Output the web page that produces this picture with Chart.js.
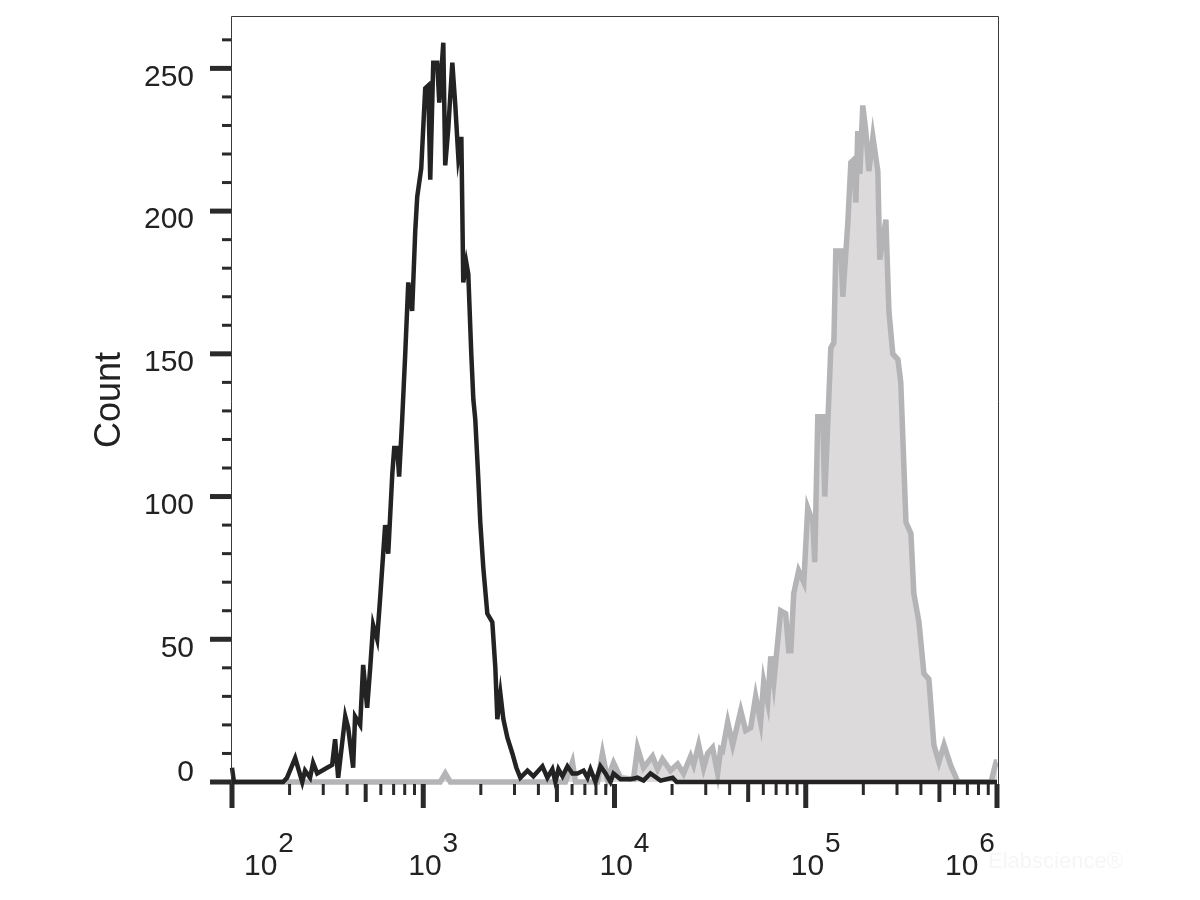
<!DOCTYPE html>
<html>
<head>
<meta charset="utf-8">
<script src="https://cdn.jsdelivr.net/npm/chart.js@4.4.0/dist/chart.umd.min.js"></script>
<style>
    html, body { margin: 0; padding: 0; background: #fff; }
</style>
</head>
<body>
<canvas id="histo" width="1200" height="900"></canvas>

<script>
    // control (black line) - fluorescence intensity vs count
    var ctrlX = [100, 102.4, 185, 194, 214, 233, 241, 256, 265.5, 279, 314, 334, 346, 359, 391, 405, 430, 440, 468, 485,
        509, 528, 547, 574, 596, 632, 656, 689, 705, 731, 748, 776, 805, 835, 875, 908, 930, 976, 1024, 1062,
        1088, 1128, 1183, 1213, 1273, 1303, 1352, 1419, 1471, 1525, 1582, 1619, 1679, 1720, 1783, 1828, 1871, 1941, 1987, 2061,
        2163, 2297, 2382, 2440, 2531, 2624, 2754, 2924, 3069, 3219, 3508, 3767, 4198, 4458, 4732, 4909, 5093, 5346, 5675, 6026,
        6398, 6886, 7225, 7487, 7953, 8446, 8974, 9527, 9883, 10750, 12130, 13190, 14190, 15420, 17420, 20130, 21130, 1000000];
    var ctrlY = [5, 0, 0, 1.5, 8.4, 0, 4, 1.5, 6.7, 3, 5, 6, 15, 1.5, 23, 19, 5, 23, 20, 41,
        26, 40, 55, 50, 65, 90, 80, 108, 117, 117, 107, 127, 150, 175, 165, 193, 205, 215, 243, 244,
        211, 252, 252, 238, 259, 216, 229, 252, 237, 219, 226, 175, 182, 178, 150, 134, 127, 106, 91, 75,
        59, 56, 40, 22, 31, 22, 15.5, 10, 5, 1.5, 4, 2, 5.5, 1.5, 4.5, 0, 4.5, 2, 5.5, 3,
        3, 4, 1.5, 4.5, 0, 5.5, 3, 0, 3, 1, 1, 1.5, 0.5, 3, 0.5, 1.5, 0, 0];

    // stained sample (grey filled)
    var stainX = [100, 1227, 1303, 1385, 5540, 6026, 6252, 8147, 8650, 9183, 9883, 10750, 12570, 13190, 14190, 15810, 16790, 17820, 19630, 21380,
        22970, 25000, 25940, 27540, 29240, 30690, 32580, 34600, 35890, 36730, 39080, 41500, 45710, 48530, 51520, 54700, 58070, 60260, 63240, 65610,
        68080, 73960, 78520, 81470, 83560, 86500, 91830, 97720, 102400, 108900, 111400, 115600, 122700, 125700, 130300, 135200, 140300, 143600, 152500, 156300,
        166000, 172200, 178300, 182800, 187100, 191900, 198700, 206100, 213800, 224400, 238200, 243800, 262400, 272200, 285100, 303400, 314000, 334200, 354800, 367400,
        390800, 414900, 440500, 467700, 496700, 528400, 574200, 625200, 931000, 988600, 1000000];
    var stainY = [0, 0, 3, 0, 0, 7, 0, 0, 10, 1, 6.7, 1.5, 1, 12, 5, 9, 4.5, 8, 4, 6.3,
        3, 9, 6, 13, 5, 10, 12, 3, 11.5, 11, 21, 13, 25, 18, 19, 30, 21, 35, 28, 44,
        35, 60, 59, 46, 46, 66, 74, 70, 96, 91, 77, 128, 128, 100, 125, 152, 154, 186, 186, 170,
        196, 217, 218, 203, 228, 213, 237, 228, 214, 226, 214, 183, 197, 165, 150, 148, 140, 91, 87, 66,
        56, 38, 36, 13, 7, 13, 5.6, 0, 0, 7, 7];

    var yMajor = [0, 50, 100, 150, 200, 250];
    var yMinorStep = 10;
    var yMinorTop = 260;
    var decades = [2, 3, 4, 5, 6];

    var FONT = '"Liberation Sans", Arial, sans-serif';

    function toPoints(xs, ys) {
        var pts = [];
        for (var i = 0; i < xs.length; i++) pts.push({ x: xs[i], y: ys[i] });
        return pts;
    }

    // axes, ticks and labels drawn by hand so they look like the flow software output
    var axesPlugin = {
        id: 'flowAxes',
        afterDraw: function (chart) {
            var ctx = chart.ctx;
            var xs = chart.scales.x, ys = chart.scales.y;
            var a = chart.chartArea;
            ctx.save();

            // frame
            ctx.strokeStyle = '#3a3a3a';
            ctx.lineWidth = 1;
            ctx.beginPath();
            ctx.moveTo(231.5, 786);
            ctx.lineTo(231.5, a.top - 0.5);
            ctx.lineTo(a.right + 1.5, a.top - 0.5);
            ctx.lineTo(a.right + 1.5, 786);
            ctx.stroke();

            // y ticks
            ctx.fillStyle = '#2a2a2a';
            for (var v = 0; v <= yMinorTop; v += yMinorStep) {
                var py = ys.getPixelForValue(v);
                if (v % 50 == 0) ctx.fillRect(210, py - 2.5, 21, 5);
                else ctx.fillRect(222, py - 1.5, 9, 3);
            }

            // x ticks (log)
            for (var p = 2; p <= 6; p++) {
                for (var m = 1; m <= 9; m++) {
                    if (p == 6 && m > 1) break;
                    var val = m * Math.pow(10, p);
                    var px = xs.getPixelForValue(val);
                    if (m == 1) ctx.fillRect(px - 2.5, 784, 5, 24);
                    else if (m == 5) ctx.fillRect(px - 2, 784, 4, 18);
                    else ctx.fillRect(px - 1.5, 784, 3, 11);
                }
            }

            // y labels
            ctx.fillStyle = '#222';
            ctx.font = '30px ' + FONT;
            ctx.textAlign = 'right';
            ctx.textBaseline = 'middle';
            yMajor.forEach(function (v) {
                var py = ys.getPixelForValue(v);
                ctx.fillText(String(v), 194, v == 0 ? py - 9 : py + 9);
            });

            // x labels 10^n
            ctx.textAlign = 'left';
            ctx.textBaseline = 'alphabetic';
            decades.forEach(function (p, i) {
                var px = xs.getPixelForValue(Math.pow(10, p));
                var tx = px - 15;
                if (i == 0) tx = px + 12;
                if (i == decades.length - 1) tx = px - 52;
                ctx.font = '30px ' + FONT;
                ctx.fillText('10', tx, 875);
                var w = ctx.measureText('10').width;
                ctx.font = '28px ' + FONT;
                ctx.fillText(String(p), tx + w + 1, 852);
            });

            // axis title
            ctx.save();
            ctx.translate(110, 400);
            ctx.rotate(-Math.PI / 2);
            ctx.textAlign = 'center';
            ctx.textBaseline = 'middle';
            ctx.font = '36px ' + FONT;
            ctx.fillText('Count', 0, 0);
            ctx.restore();

            // faint watermark
            ctx.fillStyle = '#f6f6f6';
            ctx.font = '22px ' + FONT;
            ctx.fillText('Elabscience\u00AE', 988, 868);

            ctx.restore();
        }
    };

    var chart = new Chart(document.getElementById('histo').getContext('2d'), {
        type: 'line',
        data: {
            datasets: [{
                label: 'control',
                data: toPoints(ctrlX, ctrlY),
                borderColor: '#232323',
                borderWidth: 4.5,
                borderJoinStyle: 'miter',
                pointRadius: 0,
                tension: 0,
                fill: false,
                clip: false
            }, {
                label: 'sample',
                data: toPoints(stainX, stainY),
                borderColor: '#b4b3b6',
                backgroundColor: '#dcdadb',
                borderWidth: 5.5,
                borderJoinStyle: 'miter',
                pointRadius: 0,
                tension: 0,
                fill: 'origin',
                clip: false
            }]
        },
        options: {
            responsive: false,
            animation: false,
            layout: { padding: { left: 232, right: 203, top: 17, bottom: 118 } },
            plugins: { legend: { display: false }, tooltip: { enabled: false } },
            scales: {
                x: { type: 'logarithmic', min: 100, max: 1000000, display: false },
                y: { type: 'linear', min: 0, max: 268, display: false }
            }
        },
        plugins: [axesPlugin]
    });
</script>
</body>
</html>
